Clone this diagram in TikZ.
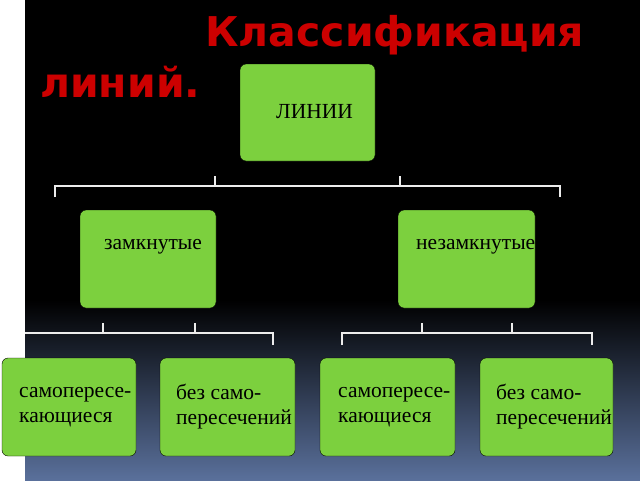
\documentclass[tikz,border=0pt]{standalone}
\usepackage{fontspec}
\setmainfont{Liberation Serif}
\newfontfamily\titlefont{DejaVu Sans}
\definecolor{gr}{RGB}{124,208,62}
\definecolor{tr}{RGB}{204,0,0}
\definecolor{bot}{RGB}{90,112,155}
\begin{document}
\begin{tikzpicture}[x=1pt,y=-1pt,
  box/.style={fill=gr,rounded corners=6pt},
  lbl/.style={font=\fontsize{21.5}{25}\selectfont,align=left,anchor=west,inner sep=0},
  br/.style={draw=white!85!gray,line width=2pt}]
\useasboundingbox (0,0) rectangle (640,480);
\fill[white] (0,0) rectangle (640,480);
\fill[black] (25,0) rectangle (640,300);
\shade[top color=black,bottom color=bot] (25,300) rectangle (640,480);
\fill[black] (45,40) rectangle (49,72);
% title
\node[anchor=base west,text=tr,font=\titlefont\bfseries\fontsize{41}{45}\selectfont,inner sep=0] (t1) at (205,46) {Классификация};
\node[anchor=base west,text=tr,font=\titlefont\bfseries\fontsize{41}{45}\selectfont,inner sep=0] (t2) at (40,97) {линий.};
% boxes
\draw[box] (240,64) rectangle (375,161);
\node[lbl] (a) at (276,112) {ЛИНИИ};
\draw[box] (80,210) rectangle (216,308);
\node[lbl] (b) at (104,247) {замкнутые};
\draw[box] (398,210) rectangle (535,308);
\node[lbl] (c) at (416,247) {незамкнутые};
\draw[box] (2,358) rectangle (136,456);
\node[lbl] (d) at (19,407) {самопересе-\\кающиеся};
\draw[box] (160,358) rectangle (295,456);
\node[lbl] (e) at (176,407) {без само-\\пересечений};
\draw[box] (320,358) rectangle (455,456);
\node[lbl] (f) at (338,407) {самопересе-\\кающиеся};
\draw[box] (480,358) rectangle (613,456);
\node[lbl] (g) at (496,407) {без само-\\пересечений};
% brackets
\draw[br] (55,197) -- (55,186) -- (560,186) -- (560,197);
\draw[br] (215,176) -- (215,186) (400,176) -- (400,186);
\draw[br] (25,333) -- (273,333) -- (273,345);
\draw[br] (103,323) -- (103,333) (195,323) -- (195,333);
\draw[br] (342,345) -- (342,333) -- (592,333) -- (592,345);
\draw[br] (422,323) -- (422,333) (512,323) -- (512,333);
\end{tikzpicture}
\end{document}
